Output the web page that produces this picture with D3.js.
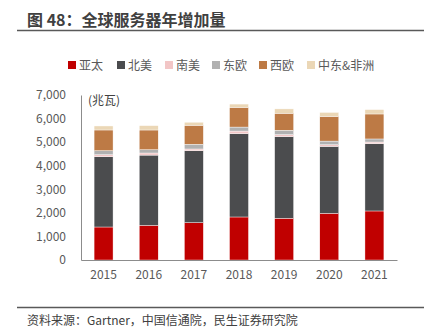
<!DOCTYPE html>
<html>
<head>
<meta charset="utf-8">
<script src="https://cdn.jsdelivr.net/npm/d3@7"></script>
<style>
  body { margin: 0; background: #fff; }
  svg { display: block; font-family: "Noto Sans CJK SC", "Noto Sans", sans-serif; }
</style>
</head>
<body>
<div id="chart"></div>
<script>
var width  = 431;
var height = 331;

// 数据 (兆瓦)
var years   = ["2015", "2016", "2017", "2018", "2019", "2020", "2021"];
var regions = ["亚太", "北美", "南美", "东欧", "西欧", "中东&非洲"];
var colors  = ["#c00000", "#4b4c4e", "#f2c6c6", "#b1b1b1", "#bd7a45", "#ebd7b6"];

var asiaPac  = [1400, 1470, 1585, 1825, 1770, 1980, 2080];
var northAm  = [2983, 2980, 3050, 3535, 3465, 2840, 2855];
var southAm  = [  85,   90,   75,  110,   85,   70,   70];
var eastEu   = [ 170,  140,  200,  170,  185,  155,  130];
var westEu   = [ 878,  835,  805,  835,  720, 1045, 1060];
var meAfrica = [ 170,  185,  130,  140,  185,  170,  185];

var yTicks = [0, 1000, 2000, 3000, 4000, 5000, 6000, 7000];

var series = [asiaPac, northAm, southAm, eastEu, westEu, meAfrica];
var table = years.map(function (y, i) {
  var row = {year: y};
  regions.forEach(function (r, k) { row[r] = series[k][i]; });
  return row;
});

var margin = {top: 95, right: 34, bottom: 71, left: 81};
var innerW = width - margin.left - margin.right;
var innerH = height - margin.top - margin.bottom;

var svg = d3.select("#chart").append("svg")
    .attr("width", width)
    .attr("height", height);

// 标题
svg.append("text")
    .attr("x", 27)
    .attr("y", 26)
    .attr("font-size", 16)
    .attr("font-weight", "bold")
    .attr("fill", "#404040")
    .text("图 48：全球服务器年增加量");

svg.append("line")
    .attr("x1", 17).attr("x2", 424)
    .attr("y1", 30.5).attr("y2", 30.5)
    .attr("stroke", "#595959")
    .attr("stroke-width", 1.5);

// 图例
var legendX = [68, 117, 165, 212, 259, 307];
var legend = svg.selectAll(".legend")
    .data(regions)
    .enter().append("g")
    .attr("class", "legend")
    .attr("transform", function (d, i) { return "translate(" + legendX[i] + ",65)"; });

legend.append("rect")
    .attr("x", 0).attr("y", -4)
    .attr("width", 8).attr("height", 8)
    .attr("fill", function (d, i) { return colors[i]; });

legend.append("text")
    .attr("x", 11)
    .attr("y", 4.5)
    .attr("font-size", 12)
    .attr("fill", "#595959")
    .text(function (d) { return d; });

var g = svg.append("g")
    .attr("transform", "translate(" + margin.left + "," + margin.top + ")");

var x = d3.scaleBand()
    .domain(years)
    .range([0, innerW])
    .paddingInner(0.58)
    .paddingOuter(0.29);

var y = d3.scaleLinear()
    .domain([0, 7000])
    .range([innerH, 0]);

var stack = d3.stack().keys(regions);
var layers = stack(table);

g.selectAll(".layer")
    .data(layers)
    .enter().append("g")
    .attr("class", "layer")
    .attr("fill", function (d, i) { return colors[i]; })
    .selectAll("rect")
    .data(function (d) { return d; })
    .enter().append("rect")
    .attr("x", function (d) { return x(d.data.year); })
    .attr("y", function (d) { return y(d[1]); })
    .attr("height", function (d) { return y(d[0]) - y(d[1]); })
    .attr("width", x.bandwidth())
    .attr("stroke", "#fff")
    .attr("stroke-width", 0.4);

// 坐标轴
var yAxis = g.append("g")
    .call(d3.axisLeft(y).tickValues(yTicks).tickSize(0).tickPadding(15)
      .tickFormat(d3.format(",")));
yAxis.select(".domain").attr("stroke", "#8c8c8c");
yAxis.selectAll("text")
    .attr("font-size", 12)
    .attr("fill", "#595959")
    .attr("font-family", "'Noto Sans CJK SC', sans-serif");

var xAxis = g.append("g")
    .attr("transform", "translate(0," + innerH + ")")
    .call(d3.axisBottom(x).tickSize(0).tickPadding(10));
xAxis.select(".domain").attr("stroke", "#8c8c8c");
xAxis.selectAll("text")
    .attr("font-size", 12)
    .attr("fill", "#595959")
    .attr("font-family", "'Noto Sans CJK SC', sans-serif");

g.append("text")
    .attr("x", 7)
    .attr("y", 10)
    .attr("font-size", 12)
    .attr("fill", "#404040")
    .text("(兆瓦)");

// 来源
svg.append("line")
    .attr("x1", 17).attr("x2", 424)
    .attr("y1", 307.5).attr("y2", 307.5)
    .attr("stroke", "#595959")
    .attr("stroke-width", 1.5);

svg.append("text")
    .attr("x", 27)
    .attr("y", 325)
    .attr("font-size", 12)
    .attr("fill", "#404040")
    .text("资料来源：Gartner，中国信通院，民生证券研究院");
</script>
</body>
</html>
